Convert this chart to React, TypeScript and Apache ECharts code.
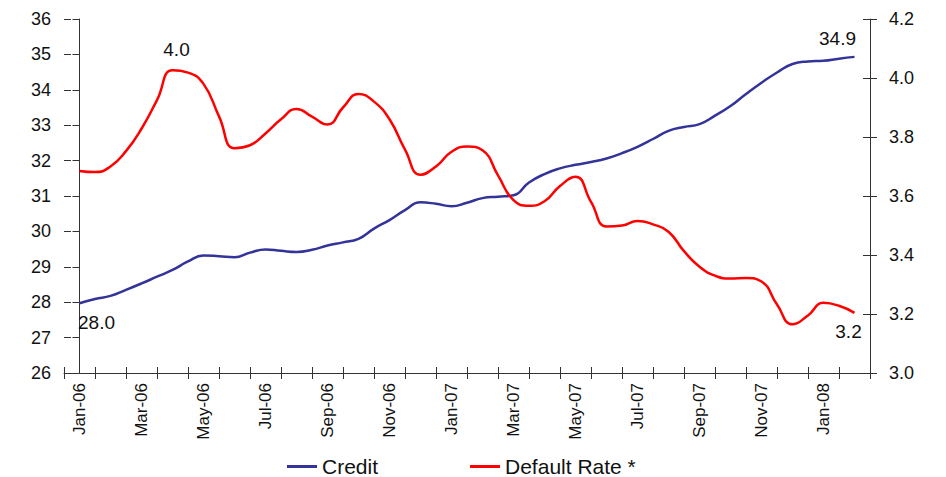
import React, { useEffect, useRef } from 'react';
import * as echarts from 'echarts';

const months = [
  'Jan-06', 'Feb-06', 'Mar-06', 'Apr-06', 'May-06', 'Jun-06', 'Jul-06', 'Aug-06', 'Sep-06', 'Oct-06', 'Nov-06', 'Dec-06',
  'Jan-07', 'Feb-07', 'Mar-07', 'Apr-07', 'May-07', 'Jun-07', 'Jul-07', 'Aug-07', 'Sep-07', 'Oct-07', 'Nov-07', 'Dec-07',
  'Jan-08', 'Feb-08',
];

// positions (in months from Jan-06) of the half-monthly readings
const monthPos = [
  0, 0.5, 1, 1.5, 2, 2.5, 3, 3.5, 4, 4.5, 5, 5.5, 6, 6.5, 7, 7.5, 8, 8.5, 9, 9.5,
  10, 10.5, 11, 11.5, 12, 12.5, 13, 13.5, 14, 14.5, 15, 15.5, 16, 16.5, 17, 17.5, 18, 18.5, 19, 19.5,
  20, 20.5, 21, 21.5, 22, 22.5, 23, 23.5, 24, 24.5, 25,
];

const credit = [
  27.97, 28.09, 28.18, 28.35, 28.53, 28.72, 28.91, 29.15, 29.32, 29.3, 29.27, 29.4, 29.49, 29.45, 29.42, 29.48, 29.6, 29.69, 29.79, 30.08,
  30.32, 30.6, 30.82, 30.78, 30.71, 30.81, 30.94, 30.98, 31.02, 31.38, 31.62, 31.78, 31.88, 31.96, 32.06, 32.21, 32.39, 32.61, 32.84, 32.95,
  33.03, 33.27, 33.54, 33.88, 34.2, 34.49, 34.73, 34.8, 34.82, 34.88, 34.93,
];

const defaultRate = [
  3.685, 3.681, 3.7, 3.752, 3.828, 3.925, 4.026, 4.018, 3.98, 3.87, 3.762, 3.772, 3.812, 3.86, 3.895, 3.869, 3.842, 3.9, 3.946, 3.92,
  3.86, 3.757, 3.672, 3.7, 3.75, 3.768, 3.755, 3.67, 3.586, 3.567, 3.582, 3.634, 3.665, 3.58, 3.497, 3.5, 3.515, 3.504, 3.479, 3.413,
  3.36, 3.33, 3.32, 3.322, 3.31, 3.232, 3.165, 3.195, 3.238, 3.228, 3.204,
];

const leftTicks = { min: 26, max: 36, interval: 1 };
const rightTicks = { min: 3.0, max: 4.2, interval: 0.2 };

export default function App() {
  const ref = useRef<HTMLDivElement>(null);
  useEffect(() => {
    const chart = echarts.init(ref.current!, null, { renderer: 'svg' });
    const font = 'Liberation Sans, Arial, sans-serif';
    const axisColor = '#333333';
    const creditData = monthPos.map((t, i) => [t, credit[i]]);
    const rateData = monthPos.map((t, i) => [t, defaultRate[i]]);
    const last = monthPos.length - 1;
    let peak = 0;
    defaultRate.forEach((v, i) => { if (v > defaultRate[peak]) peak = i; });

    const labelStyle = { show: true, position: 'inside', color: '#111', fontFamily: font, fontSize: 19, formatter: (p: any) => p.value };
    const mp = (x: number, y: number, offset: number[]) => ({
      coord: [x, y], value: y.toFixed(1), label: { ...labelStyle, offset },
    });

    chart.setOption({
      animation: false,
      backgroundColor: '#ffffff',
      textStyle: { fontFamily: font },
      grid: { left: 64, right: 76, top: 19, bottom: 104, containLabel: false, outerBoundsMode: 'none' },
      legend: {
        left: 287, top: 456, padding: 0, itemWidth: 30, itemHeight: 3, itemGap: 92, icon: 'rect',
        textStyle: { fontFamily: font, fontSize: 21, color: '#111' },
        data: ['Credit', 'Default Rate *'],
      },
      xAxis: [
        {
          type: 'category', data: months, boundaryGap: true, gridIndex: 0,
          axisLine: { lineStyle: { color: axisColor, width: 1 } },
          axisTick: { show: true, interval: 0, length: 6, lineStyle: { color: axisColor } },
          axisLabel: { interval: 1, rotate: 90, margin: 10, fontFamily: font, fontSize: 17, color: '#111' },
          splitLine: { show: false },
        },
        { type: 'value', min: -0.5, max: 25.5, show: false },
        {
          type: 'category', data: months, boundaryGap: true, position: 'bottom',
          axisLine: { show: false },
          axisTick: { show: true, inside: true, interval: 0, length: 6, lineStyle: { color: axisColor } },
          axisLabel: { show: false }, splitLine: { show: false },
        },
      ],
      yAxis: [
        {
          type: 'value', position: 'left', ...leftTicks,
          axisLine: { show: true, lineStyle: { color: axisColor } },
          axisTick: { show: true, length: 7, lineStyle: { color: axisColor } },
          axisLabel: { margin: 13, fontFamily: font, fontSize: 18, color: '#111' },
          splitLine: { show: false },
        },
        {
          type: 'value', position: 'right', ...rightTicks,
          axisLine: { show: true, lineStyle: { color: axisColor } },
          axisTick: { show: true, length: 7, lineStyle: { color: axisColor } },
          axisLabel: { margin: 19, fontFamily: font, fontSize: 18, color: '#111', formatter: (v: number) => v.toFixed(1) },
          splitLine: { show: false },
        },
        {
          type: 'value', position: 'left', ...leftTicks,
          axisLine: { show: false },
          axisTick: { show: true, inside: true, length: 7, lineStyle: { color: axisColor } },
          axisLabel: { show: false }, splitLine: { show: false },
        },
        {
          type: 'value', position: 'right', ...rightTicks,
          axisLine: { show: false },
          axisTick: { show: true, inside: true, length: 7, lineStyle: { color: axisColor } },
          axisLabel: { show: false }, splitLine: { show: false },
        },
      ],
      series: [
        {
          name: 'Credit', type: 'line', xAxisIndex: 1, yAxisIndex: 0, data: creditData,
          smooth: 0.5, showSymbol: false, symbol: 'none',
          lineStyle: { color: '#333399', width: 2.5 }, itemStyle: { color: '#333399' },
          markPoint: {
            symbol: 'circle', symbolSize: 1, itemStyle: { color: 'rgba(0,0,0,0)' },
            data: [
              mp(monthPos[0], credit[0], [17, 19]),
              mp(monthPos[last], credit[last], [-17, -18]),
            ],
          },
        },
        {
          name: 'Default Rate *', type: 'line', xAxisIndex: 1, yAxisIndex: 1, data: rateData,
          smooth: 0.5, showSymbol: false, symbol: 'none',
          lineStyle: { color: '#ff0000', width: 2.5 }, itemStyle: { color: '#ff0000' },
          markPoint: {
            symbol: 'circle', symbolSize: 1, itemStyle: { color: 'rgba(0,0,0,0)' },
            data: [
              mp(monthPos[peak], defaultRate[peak], [4, -21]),
              mp(monthPos[last], defaultRate[last], [-6, 19]),
            ],
          },
        },
      ],
    });
    return () => chart.dispose();
  }, []);
  return <div ref={ref} style={{ position: 'fixed', left: 0, top: 0, width: 946, height: 477 }} />;
}
